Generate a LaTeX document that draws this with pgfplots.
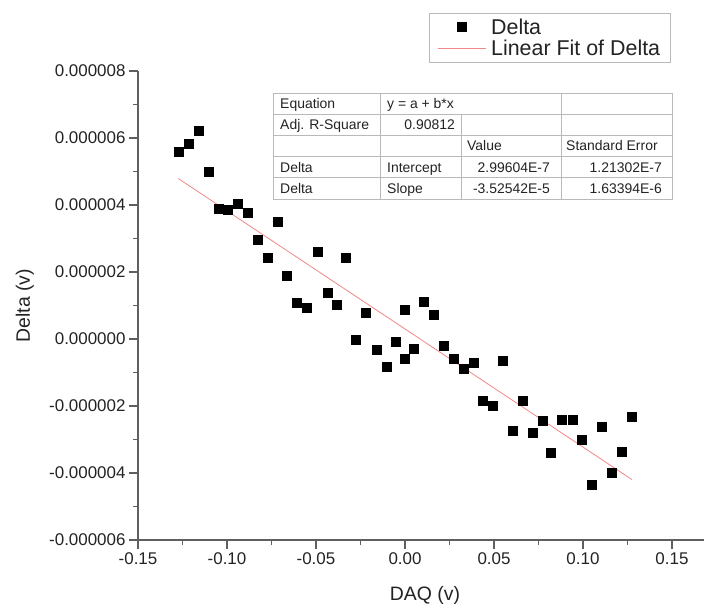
\documentclass[border=0pt]{standalone}
\usepackage{fontspec}
\setmainfont{Liberation Sans}
\usepackage{pgfplots}
\pgfplotsset{compat=1.18}
\definecolor{axgray}{RGB}{95,95,95}
\definecolor{fitred}{RGB}{242,135,135}
\definecolor{tabline}{RGB}{185,185,185}
\definecolor{txt}{RGB}{35,35,35}
\pgfplotsset{
  markleg/.style={legend image code/.code={\draw[##1] plot coordinates {(24bp,0bp)};}},
  lineleg/.style={legend image code/.code={\draw[##1] (0bp,0bp) -- (48bp,0bp);}},
}
\begin{document}
\begin{tikzpicture}
\useasboundingbox (0,0) rectangle (710bp,608bp);
\begin{axis}[
  at={(138bp,68bp)}, anchor=south west,
  width=566bp, height=469bp, scale only axis,
  xmin=-0.15, xmax=0.168, ymin=-6e-6, ymax=8e-6,
  axis lines=left, axis line style={-, axgray, line width=1.2bp},
  xtick={-0.15,-0.1,-0.05,0,0.05,0.1,0.15},
  xticklabels={-0.15,-0.10,-0.05,0.00,0.05,0.10,0.15},
  minor xtick={-0.125,-0.075,-0.025,0.025,0.075,0.125},
  ytick={-6e-6,-4e-6,-2e-6,0,2e-6,4e-6,6e-6,8e-6},
  yticklabels={-0.000006,-0.000004,-0.000002,0.000000,0.000002,0.000004,0.000006,0.000008},
  minor ytick={-5e-6,-3e-6,-1e-6,1e-6,3e-6,5e-6,7e-6},
  scaled x ticks=false, scaled y ticks=false,
  tick align=outside, major tick length=9bp, minor tick length=5bp,
  every tick/.style={axgray, line width=1.2bp},
  ticklabel style={font=\fontsize{17}{20}\selectfont, text=txt},
  xlabel={DAQ (v)}, ylabel={Delta (v)},
  every axis x label/.style={at={(axis description cs:0.507,-0.119)}, anchor=center, font=\fontsize{19.5}{23}\selectfont, text=txt},
  every axis y label/.style={at={(axis description cs:-0.2,0.5)}, rotate=90, anchor=center, font=\fontsize{19.5}{23}\selectfont, text=txt},
  legend style={at={(0.514,1.124)}, anchor=north west, draw=tabline, line width=0.8bp,
    font=\fontsize{21.5}{25}\selectfont, text=txt, inner xsep=8bp, inner ysep=3.5bp, row sep=0bp, column sep=3bp},
  legend cell align=left,
  clip=false,
]
\addplot[only marks, mark=square*, mark size=4.5bp, black, markleg]
coordinates {
(-0.1274,5.59e-6) (-0.1213,5.84e-6) (-0.1157,6.22e-6) (-0.1105,4.98e-6)
(-0.1049,3.90e-6) (-0.0998,3.85e-6) (-0.0942,4.04e-6) (-0.0884,3.76e-6)
(-0.0828,2.96e-6) (-0.0774,2.42e-6) (-0.0717,3.50e-6) (-0.0663,1.88e-6)
(-0.0607,1.08e-6) (-0.0552,0.93e-6) (-0.0490,2.61e-6) (-0.0437,1.38e-6)
(-0.0386,1.01e-6) (-0.0331,2.42e-6) (-0.0275,-0.01e-6) (-0.0219,0.79e-6)
(-0.0159,-0.31e-6) (-0.0103,-0.84e-6) (-0.0051,-0.08e-6) (0.0000,-0.60e-6)
(0.0000,0.87e-6) (0.0051,-0.30e-6) (0.0103,1.10e-6) (0.0159,0.74e-6)
(0.0219,-0.20e-6) (0.0271,-0.60e-6) (0.0328,-0.90e-6) (0.0384,-0.70e-6)
(0.0437,-1.84e-6) (0.0493,-1.99e-6) (0.0549,-0.66e-6) (0.0605,-2.75e-6)
(0.0661,-1.84e-6) (0.0716,-2.79e-6) (0.0772,-2.45e-6) (0.0820,-3.39e-6)
(0.0878,-2.40e-6) (0.0940,-2.40e-6) (0.0993,-3.01e-6) (0.1051,-4.36e-6)
(0.1105,-2.63e-6) (0.1161,-3.99e-6) (0.1215,-3.37e-6) (0.1275,-2.32e-6)
};
\addlegendentry{Delta}
\addplot[fitred, line width=0.8bp, no marks, lineleg]
coordinates {(-0.1274,4.791e-6) (0.1275,-4.195e-6)};
\addlegendentry{Linear Fit of Delta}
\end{axis}
\begin{scope}[x=1bp,y=1bp]
\fill[white] (273.3,409) rectangle (672,514.7);
\draw[tabline, line width=0.8bp] (273.3,409) rectangle (672,514.7);
\draw[tabline, line width=0.8bp]
  (273.3,493.6) -- (672,493.6) (273.3,472.4) -- (672,472.4)
  (273.3,451.3) -- (672,451.3) (273.3,430.1) -- (672,430.1)
  (380.7,409) -- (380.7,514.7) (561,409) -- (561,514.7)
  (461.7,409) -- (461.7,493.6);
\begin{scope}[every node/.style={inner sep=0pt, font=\fontsize{14}{16}\selectfont, text=txt}]
\node[anchor=base west] at (280,499) {Equation};
\node[anchor=base west] at (387,499) {y = a + b*x};
\node[anchor=base west] at (280,478) {Adj. R-Square};
\node[anchor=base east] at (455,478) {0.90812};
\node[anchor=base west] at (467,457) {Value};
\node[anchor=base west] at (566,457) {Standard Error};
\node[anchor=base west] at (280,435.7) {Delta};
\node[anchor=base west] at (387,435.7) {Intercept};
\node[anchor=base east] at (550,435.7) {2.99604E-7};
\node[anchor=base east] at (662,435.7) {1.21302E-7};
\node[anchor=base west] at (280,414.5) {Delta};
\node[anchor=base west] at (387,414.5) {Slope};
\node[anchor=base east] at (550,414.5) {-3.52542E-5};
\node[anchor=base east] at (662,414.5) {1.63394E-6};
\end{scope}
\end{scope}
\end{tikzpicture}
\end{document}
